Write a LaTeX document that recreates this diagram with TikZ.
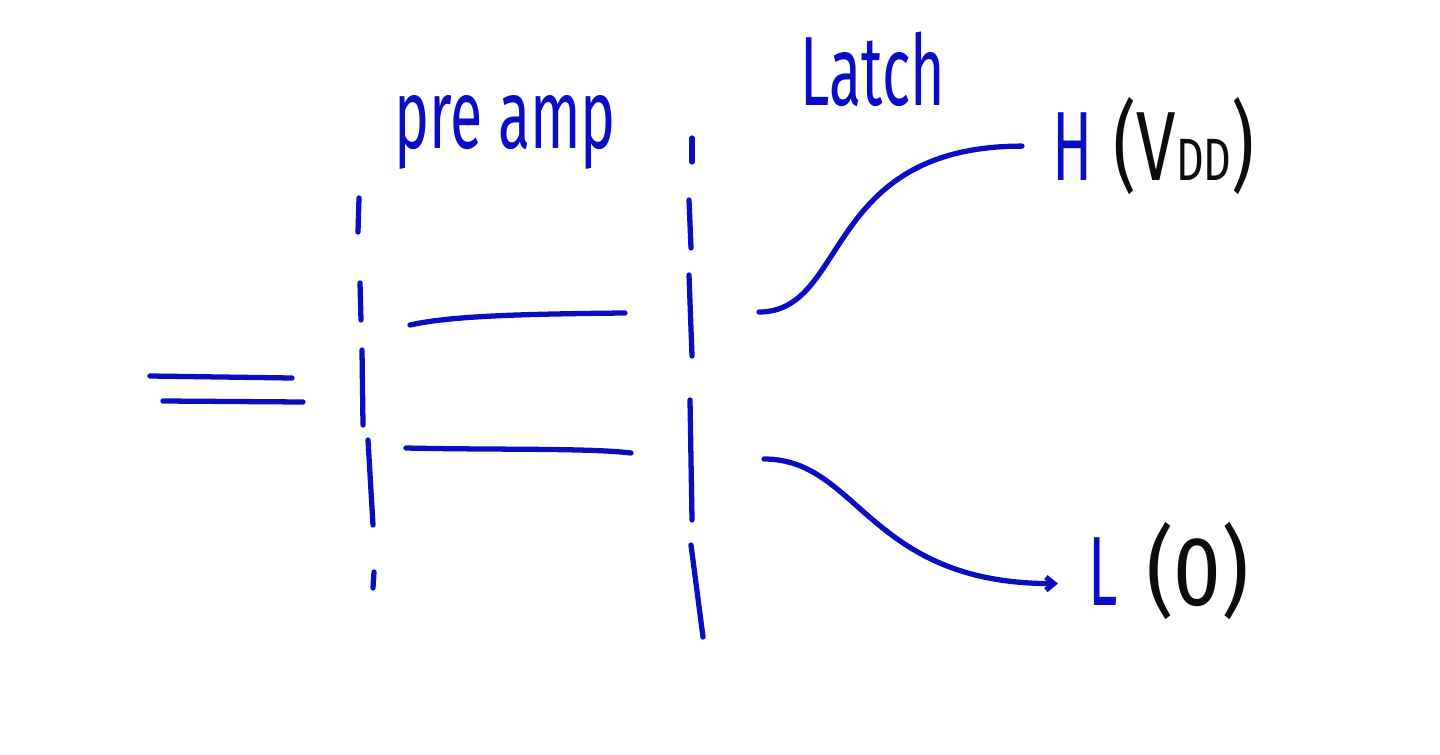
\documentclass[tikz,border=0pt]{standalone}
\usepackage{fontspec}
\setmainfont{Fira Sans}
\usepackage{tikz}
\usetikzlibrary{arrows.meta,positioning}
\definecolor{penblue}{RGB}{12,12,196}
\definecolor{penblack}{RGB}{12,12,12}

\begin{document}
\begin{tikzpicture}[x=0.02cm,y=-0.02cm,
  pen/.style={penblue,line width=3pt,line cap=round},
  hand/.style={font=\fontsize{56}{56}\selectfont,inner sep=0pt,xscale=0.6}]
\useasboundingbox (0,0) rectangle (1440,754);
% ---------- the equals sign ----------
\draw[pen] (150,376) -- (292,378);
\draw[pen] (163,401) -- (303,402);
% ---------- the two dashed stage borders ----------
\foreach \xa/\ya/\xb/\yb in {359/198/358/232, 360/283/361/320, 362/350/363/425,
                             368/440/373/525, 374/572/373/588}
  \draw[pen] (\xa,\ya) -- (\xb,\yb);
\foreach \xa/\ya/\xb/\yb in {692/138/692/162, 689/200/691/248, 689/275/692/356,
                             690/400/692/520, 691/545/703/637}
  \draw[pen] (\xa,\ya) -- (\xb,\yb);
% ---------- stage names ----------
\node[hand,penblue,anchor=base] (preamp) at (505,148) {pre amp};
\node[hand,penblue,anchor=base] (latch) at (873,105) {Latch};
% ---------- output levels ----------
\node[hand,penblue,anchor=base west] (hi) at (1052,180) {H};
\node[hand,penblack,xscale=1.2,base right=12pt of hi] (hival) {(V{\fontsize{34}{34}\selectfont DD})};
\node[hand,penblue,anchor=base west] (lo) at (1088,605) {L};
\node[hand,penblack,xscale=1.45,base right=16pt of lo] (loval) {(0)};
% ---------- preamp signals ----------
\coordinate (hiA) at (410,325);
\coordinate (hiB) at (625,313);
\coordinate (loA) at (406,448);
\coordinate (loB) at (631,453);
\draw[pen] (hiA) .. controls (450,316) and (520,314) .. (hiB);
\draw[pen] (loA) .. controls (500,450) and (590,448) .. (loB);
% ---------- latch decisions ----------
\coordinate (outH) at (759,312);
\coordinate (outL) at (764,459);
\draw[pen,shorten >=0.6cm] (outH) .. controls +(90,0) and +(-230,0) .. (hi.west);
\draw[pen,shorten >=0.6cm,-{Straight Barb[length=1.6mm,width=2.6mm]}]
  (outL) .. controls +(95,0) and +(-220,0) .. ([yshift=-0.25cm]lo.west);
\end{tikzpicture}
\end{document}
